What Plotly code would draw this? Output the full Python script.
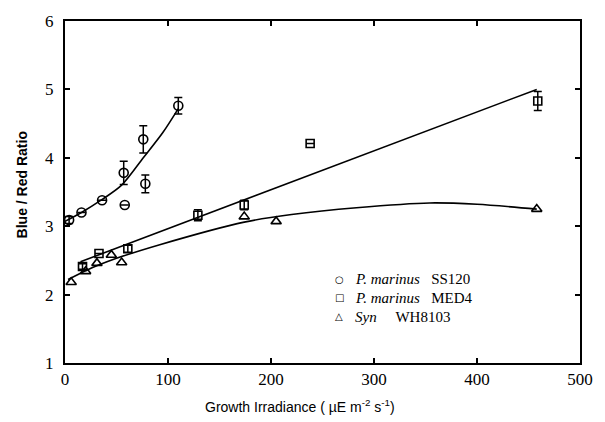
import plotly.graph_objects as go

# ---- data ----
ss120_x = [4, 16, 36, 57, 58, 76, 78, 110]
ss120_y = [3.09, 3.2, 3.38, 3.78, 3.31, 4.27, 3.62, 4.76]
ss120_err = [0.05, 0.0, 0.0, 0.17, 0.0, 0.2, 0.13, 0.12]

med4_x = [17, 33, 61, 129, 174, 238, 459]
med4_y = [2.41, 2.6, 2.67, 3.16, 3.31, 4.21, 4.83]
med4_err = [0.04, 0.0, 0.05, 0.08, 0.07, 0.0, 0.14]

wh_x = [6, 20, 31, 45, 55, 174, 205, 458]
wh_y = [2.18, 2.34, 2.46, 2.58, 2.47, 3.14, 3.07, 3.25]

# fitted curves
ss120_fit_x = [0, 16, 35, 55, 76, 95, 110]
ss120_fit_y = [3.07, 3.2, 3.38, 3.6, 4.0, 4.37, 4.72]

med4_fit_x = [15, 458]
med4_fit_y = [2.48, 5.0]

wh_fit_x = [3, 20, 50, 92, 174, 220, 283, 354, 400, 458]
wh_fit_y = [2.22, 2.35, 2.53, 2.73, 3.06, 3.17, 3.27, 3.34, 3.32, 3.25]

legend_symbols = ["○", "□", "△"]
legend_labels = ["<i>P. marinus</i>&nbsp;&nbsp;&nbsp;SS120",
                 "<i>P. marinus</i>&nbsp;&nbsp;&nbsp;MED4",
                 "<i>Syn</i>&nbsp;&nbsp;&nbsp;&nbsp;&nbsp;WH8103"]

x_ticks = [0, 100, 200, 300, 400, 500]
y_ticks = [1, 2, 3, 4, 5, 6]

fig = go.Figure()

line_style = dict(color="black", width=1.6)
fig.add_trace(go.Scatter(x=ss120_fit_x, y=ss120_fit_y, mode="lines",
                         line=dict(shape="spline", smoothing=0.8, **line_style), showlegend=False))
fig.add_trace(go.Scatter(x=med4_fit_x, y=med4_fit_y, mode="lines", line=line_style, showlegend=False))
fig.add_trace(go.Scatter(x=wh_fit_x, y=wh_fit_y, mode="lines",
                         line=dict(shape="spline", smoothing=0.8, **line_style), showlegend=False))

def err(a):
    return dict(type="data", array=a, visible=True, color="black", thickness=1.5, width=4)

fig.add_trace(go.Scatter(
    x=ss120_x, y=ss120_y, mode="markers", error_y=err(ss120_err),
    marker=dict(symbol="circle-open", size=9, color="black", line=dict(width=1.6)),
    showlegend=False))
fig.add_trace(go.Scatter(
    x=med4_x, y=med4_y, mode="markers", error_y=err(med4_err),
    marker=dict(symbol="square-open", size=8, color="black", line=dict(width=1.6)),
    showlegend=False))
fig.add_trace(go.Scatter(
    x=wh_x, y=wh_y, mode="markers",
    marker=dict(symbol="triangle-up-open", size=9, color="black", line=dict(width=1.6)),
    showlegend=False))

tick_font = dict(family="Liberation Serif", size=17, color="black")
axis_common = dict(
    showline=True, linecolor="black", linewidth=2, mirror="ticks",
    ticks="inside", ticklen=5, tickwidth=1.5, tickcolor="black",
    showgrid=False, zeroline=False, tickfont=tick_font,
)

annotations = [
    dict(text="Growth Irradiance ( µE m<sup>-2</sup> s<sup>-1</sup>)", xref="paper", yref="paper",
         x=(300 - 65) / 516, y=-0.125, xanchor="center", yanchor="middle", showarrow=False,
         font=dict(family="Liberation Sans", size=14, color="black")),
    dict(text="<b>Blue / Red Ratio</b>", xref="paper", yref="paper",
         x=-0.083, y=0.52, xanchor="center", yanchor="middle", textangle=-90, showarrow=False,
         font=dict(family="Liberation Sans", size=14, color="black")),
]
row_px = [278, 297, 316]
for sym, lab, py in zip(legend_symbols, legend_labels, row_px):
    yy = (363 - py) / 347
    annotations.append(dict(text=sym, xref="paper", yref="paper", x=0.533, y=yy,
                            xanchor="center", yanchor="middle", showarrow=False,
                            font=dict(family="DejaVu Sans", size=10, color="black")))
    annotations.append(dict(text=lab, xref="paper", yref="paper", x=0.560, y=yy,
                            xanchor="left", yanchor="middle", showarrow=False,
                            font=dict(family="Liberation Serif", size=15, color="black")))

fig.update_layout(
    width=605, height=422,
    margin=dict(l=65, r=24, t=16, b=59),
    paper_bgcolor="white", plot_bgcolor="white",
    xaxis=dict(range=[0, 500], tickvals=x_ticks, ticktext=[str(v) for v in x_ticks], **axis_common),
    yaxis=dict(range=[1, 6], tickvals=y_ticks, ticktext=[str(v) for v in y_ticks], ticklabelstandoff=6, **axis_common),
    showlegend=False,
    annotations=annotations,
)

fig.write_html("out.html")
